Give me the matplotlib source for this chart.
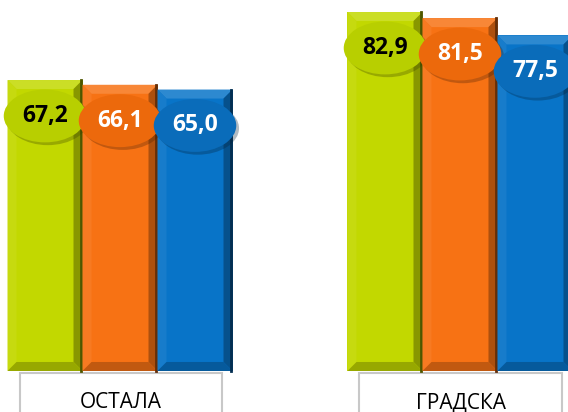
import numpy as np
import matplotlib.pyplot as plt
import matplotlib.patheffects as pe
from matplotlib.patches import Ellipse, Polygon, Rectangle
from matplotlib.colors import to_rgb

plt.rcParams['font.family'] = ['Open Sans', 'DejaVu Sans']

categories = ["ОСТАЛА", "ГРАДСКА"]
series_colors = ["#c2d800", "#f77214", "#0874c8"]
label_colors = ["#b8cf00", "#ec690c", "#0a6cba"]
text_colors = ["black", "white", "white"]
values = [
    [67.2, 66.1, 65.0],   # ОСТАЛА
    [82.9, 81.5, 77.5],   # ГРАДСКА
]
value_labels = [["67,2", "66,1", "65,0"], ["82,9", "81,5", "77,5"]]


def mix(c, other, t):
    c = np.array(to_rgb(c))
    o = np.array(to_rgb(other))
    return tuple(c * (1 - t) + o * t)


fig = plt.figure(figsize=(5.68, 4.12), dpi=100)
ax = fig.add_axes([0, 0, 1, 1])
ax.set_xlim(-1.6, 5.973)
ax.set_ylim(-9.47, 85.68)
ax.axis('off')

group_x = np.array([0, 4.533])
width = 1.0
dx = 9 / 75          # bevel, in x units
dy = 9 / 4.33        # bevel, in y units

for g, gx in enumerate(group_x):
    xs = gx + np.arange(-1, 2) * width
    bars = ax.bar(xs, values[g], width=width, color=series_colors, zorder=2,
                  linewidth=0)
    for i, b in enumerate(bars):
        x0 = b.get_x()
        x1 = x0 + b.get_width()
        h = b.get_height()
        c = series_colors[i]
        polys = [
            ([(x0, h), (x1, h), (x1 - dx, h - dy), (x0 + dx, h - dy)], mix(c, "white", 0.15)),
            ([(x0, 0), (x0, h), (x0 + dx, h - dy), (x0 + dx, dy)], mix(c, "white", 0.06)),
            ([(x1, 0), (x1, h), (x1 - dx, h - dy), (x1 - dx, dy)], mix(c, "black", 0.3)),
            ([(x0, 0), (x1, 0), (x1 - dx, dy), (x0 + dx, dy)], mix(c, "black", 0.22)),
        ]
        for pts, col in polys:
            ax.add_patch(Polygon(pts, closed=True, facecolor=col, edgecolor='none', zorder=3))
        ax.plot([x1 - 0.02, x1 - 0.02], [0, h], color=mix(c, "black", 0.6), lw=2, zorder=3)

        # value label in ellipse
        cy = h - 8.3
        e = Ellipse((x0 + width / 2, cy), 1.1, 12.2, facecolor=label_colors[i],
                    edgecolor='none', zorder=5,
                    path_effects=[pe.SimplePatchShadow(offset=(2, -2), alpha=0.3), pe.Normal()])
        ax.add_patch(e)
        ax.text(x0 + width / 2, cy, value_labels[g][i], ha='center', va='center',
                fontsize=16.5, fontweight='bold', color=text_colors[i], zorder=6)

    # category box
    ax.add_patch(Rectangle((gx - 1.34, -14), 2.7, 14 - 0.46, facecolor='white',
                           edgecolor='#c8c8c8', lw=1.5, zorder=1))
    ax.text(gx + 0.01, -8.55, categories[g], ha='center', va='baseline',
            fontsize=15, color='black', zorder=2)

fig.savefig("out.png", dpi=100)
